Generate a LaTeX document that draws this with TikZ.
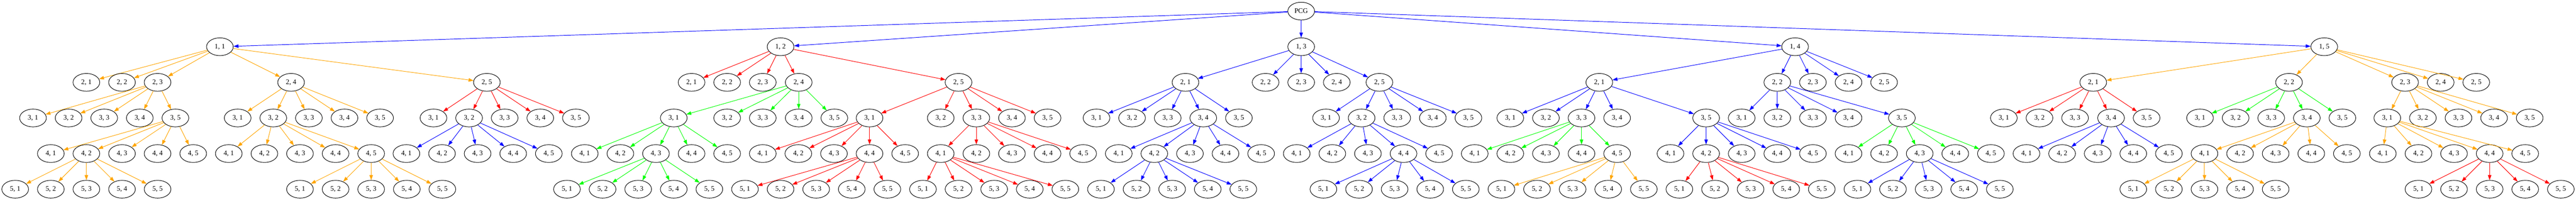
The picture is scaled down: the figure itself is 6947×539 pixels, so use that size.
\documentclass[tikz,border=0pt]{standalone}
\usepackage{fontspec}
\setmainfont{Liberation Serif}
\usetikzlibrary{shapes.geometric,arrows.meta}
\definecolor{gvorange}{HTML}{FFA500}
\definecolor{gvgreen}{HTML}{00FF00}

% five children of one parent: parent, level, x positions, colour
\newcommand\childrow[4]{%
  \foreach \cx [count=\ci] in {#3} {
    \node[cell] (#1\ci) at (\cx, {30+96*#2}) {#2, \ci};
    \draw[branch, #4] (#1) -- (#1\ci);
  }}

\begin{document}
\begin{tikzpicture}[x=0.75pt, y=-0.75pt,
    cell/.style={ellipse, draw, line width=1pt, minimum width=54pt, minimum height=36pt,
      inner sep=0pt, font=\fontsize{14}{16}\selectfont},
    branch/.style={line width=1pt, -{Triangle[length=10pt, width=7pt]}}]
    \useasboundingbox (0,0) rectangle (6947,539);

    \node[cell] (v) at (3509,30) {PCG};

    \childrow{v}{1}{593,2105,3509,4841,6268}{blue}

    \childrow{v1}{2}{233,329,425,785,1313}{gvorange}
    \childrow{v2}{2}{1865,1961,2057,2154,2585}{red}
    \childrow{v3}{2}{3197,3413,3509,3605,3720}{blue}
    \childrow{v4}{2}{4313,4793,4889,4985,5081}{blue}
    \childrow{v5}{2}{5645,6173,6486,6582,6678}{gvorange}

    \childrow{v13}{3}{89,185,281,377,473}{gvorange}
    \childrow{v14}{3}{641,737,833,929,1025}{gvorange}
    \childrow{v15}{3}{1169,1265,1361,1457,1553}{red}
    \childrow{v24}{3}{1817,1961,2057,2154,2250}{gvgreen}
    \childrow{v25}{3}{2345,2537,2633,2729,2825}{red}
    \childrow{v31}{3}{2957,3053,3149,3245,3341}{blue}
    \childrow{v35}{3}{3576,3672,3768,3864,3960}{blue}
    \childrow{v41}{3}{4073,4169,4265,4361,4601}{blue}
    \childrow{v42}{3}{4697,4793,4889,4985,5129}{blue}
    \childrow{v51}{3}{5404,5500,5596,5693,5789}{red}
    \childrow{v52}{3}{5933,6029,6125,6221,6317}{gvgreen}
    \childrow{v53}{3}{6438,6534,6630,6726,6822}{gvorange}

    \childrow{v135}{4}{137,233,329,425,521}{gvorange}
    \childrow{v142}{4}{617,713,809,905,1001}{gvorange}
    \childrow{v152}{4}{1096,1192,1288,1384,1480}{blue}
    \childrow{v241}{4}{1577,1673,1769,1865,1961}{gvgreen}
    \childrow{v251}{4}{2057,2153,2249,2345,2441}{red}
    \childrow{v253}{4}{2537,2633,2729,2825,2921}{red}
    \childrow{v314}{4}{3017,3113,3209,3305,3401}{blue}
    \childrow{v352}{4}{3497,3593,3689,3785,3881}{blue}
    \childrow{v413}{4}{3977,4073,4169,4265,4361}{gvgreen}
    \childrow{v415}{4}{4505,4601,4697,4793,4889}{blue}
    \childrow{v425}{4}{4985,5081,5177,5273,5369}{gvgreen}
    \childrow{v514}{4}{5465,5561,5657,5753,5849}{blue}
    \childrow{v524}{4}{5945,6041,6137,6233,6329}{gvorange}
    \childrow{v531}{4}{6426,6522,6618,6714,6810}{gvorange}

    \childrow{v1352}{5}{41,137,233,329,425}{gvorange}
    \childrow{v1425}{5}{809,905,1001,1097,1193}{gvorange}
    \childrow{v2413}{5}{1529,1625,1721,1817,1913}{gvgreen}
    \childrow{v2514}{5}{2009,2105,2201,2297,2393}{red}
    \childrow{v2531}{5}{2489,2585,2681,2777,2873}{red}
    \childrow{v3142}{5}{2969,3065,3161,3257,3353}{blue}
    \childrow{v3524}{5}{3569,3665,3761,3857,3953}{blue}
    \childrow{v4135}{5}{4049,4145,4241,4337,4433}{gvorange}
    \childrow{v4152}{5}{4529,4625,4721,4817,4913}{red}
    \childrow{v4253}{5}{5009,5105,5201,5297,5393}{blue}
    \childrow{v5241}{5}{5753,5849,5945,6041,6137}{gvorange}
    \childrow{v5314}{5}{6522,6618,6714,6810,6906}{red}
\end{tikzpicture}
\end{document}
